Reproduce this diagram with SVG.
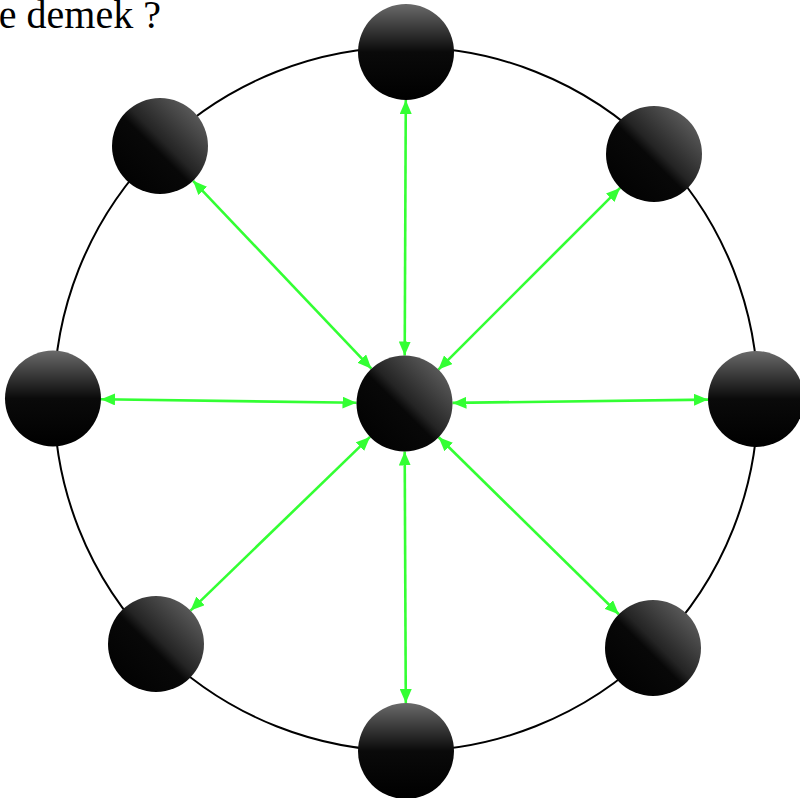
<svg xmlns="http://www.w3.org/2000/svg" width="800" height="798" viewBox="0 0 800 798">
<style>
.node{stroke:none}
.diag{fill:url(#gd)}
.vert{fill:url(#gv)}
.conn{stroke:#33ff33;stroke-width:2.6;fill:none;marker-start:url(#ah);marker-end:url(#ah)}
.title{font-family:"Liberation Serif","Times New Roman",serif;font-size:40px;fill:#000}
</style>
<defs>
<linearGradient id="gd" x1="1" y1="0" x2="0" y2="1">
<stop offset="0" stop-color="#707070"/>
<stop offset="0.46" stop-color="#242424"/>
<stop offset="0.54" stop-color="#080808"/>
<stop offset="1" stop-color="#000"/>
</linearGradient>
<linearGradient id="gv" x1="0" y1="0" x2="0" y2="1">
<stop offset="0" stop-color="#6a6a6a"/>
<stop offset="0.5" stop-color="#0a0a0a"/>
<stop offset="1" stop-color="#000"/>
</linearGradient>
<marker id="ah" viewBox="0 0 14 12" markerWidth="14" markerHeight="12" refX="14" refY="6" orient="auto-start-reverse" markerUnits="userSpaceOnUse">
<path d="M0,0 L14,6 L0,12 z" fill="#33ff33"/>
</marker>
</defs>
<text class="title" x="161" y="28" text-anchor="end">e demek ?</text>
<circle cx="406" cy="399" r="352" fill="none" stroke="#000" stroke-width="2"/>
<g id="connectors">
<line class="conn" x1="404.7" y1="355.5" x2="405.8" y2="100"/>
<line class="conn" x1="371.4" y1="368.7" x2="193.1" y2="180.8"/>
<line class="conn" x1="438.4" y1="369.6" x2="620.1" y2="187.9"/>
<line class="conn" x1="356.5" y1="402.8" x2="101" y2="399.2"/>
<line class="conn" x1="452.5" y1="402.9" x2="708" y2="399.6"/>
<line class="conn" x1="370" y1="436.9" x2="190.5" y2="610.6"/>
<line class="conn" x1="438.7" y1="437.2" x2="618.8" y2="614.3"/>
<line class="conn" x1="404.7" y1="451.5" x2="405.8" y2="703"/>
</g>
<g id="node-center"><circle class="node diag" cx="404.5" cy="403.5" r="48"/></g>
<g id="node-top"><circle class="node vert" cx="406" cy="52" r="48"/></g>
<g id="node-top-left"><circle class="node diag" cx="160" cy="146" r="48"/></g>
<g id="node-top-right"><circle class="node diag" cx="654" cy="154" r="48"/></g>
<g id="node-left"><circle class="node vert" cx="53" cy="398.5" r="48"/></g>
<g id="node-right"><circle class="node vert" cx="756" cy="399" r="48"/></g>
<g id="node-bottom-left"><circle class="node diag" cx="156" cy="644" r="48"/></g>
<g id="node-bottom-right"><circle class="node diag" cx="653" cy="648" r="48"/></g>
<g id="node-bottom"><circle class="node vert" cx="406" cy="751" r="48"/></g>
</svg>
